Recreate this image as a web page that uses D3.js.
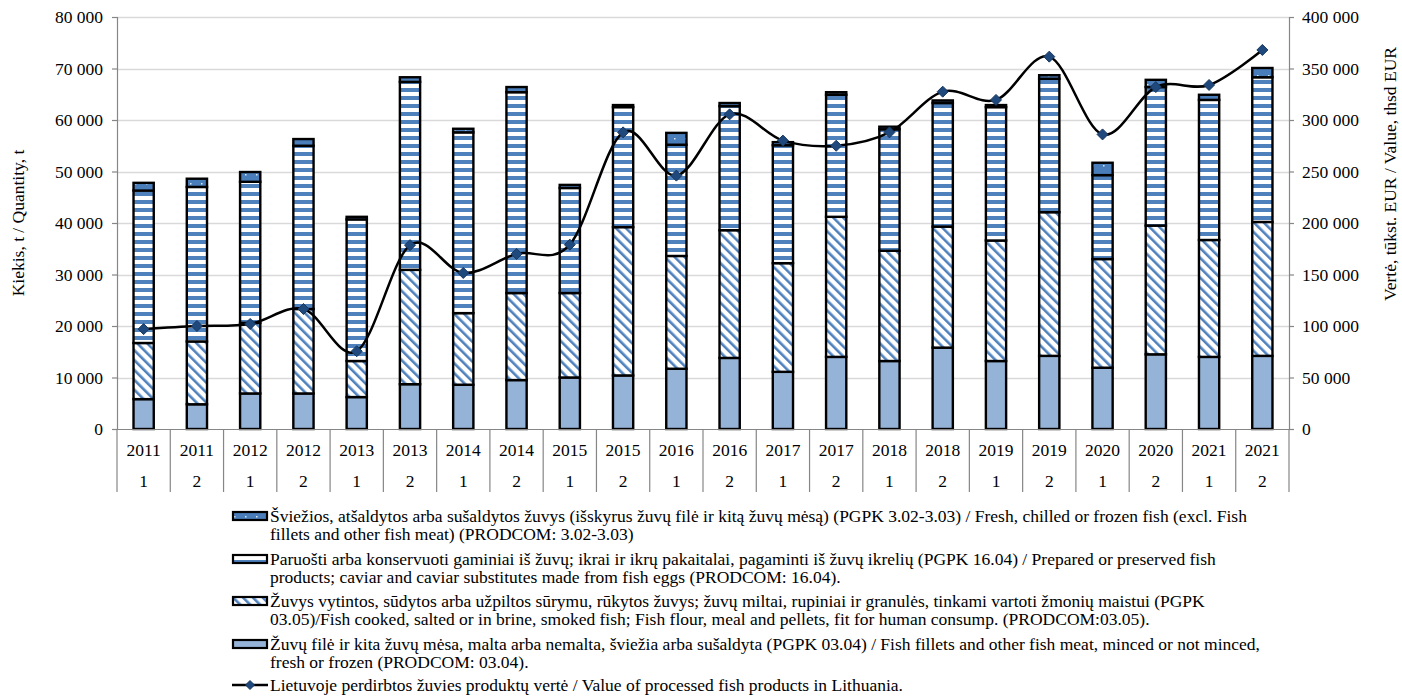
<!DOCTYPE html>
<html><head><meta charset="utf-8">
<script src="https://cdn.jsdelivr.net/npm/d3@7"></script>
<style>
body{margin:0;background:#fff;}
svg{display:block;font-family:"Liberation Serif","Times New Roman",serif;}
</style></head>
<body>
<svg id="c" width="1402" height="696"></svg>
<script>
const years  = ["2011","2011","2012","2012","2013","2013","2014","2014","2015","2015","2016","2016","2017","2017","2018","2018","2019","2019","2020","2020","2021","2021"];
const halves = ["1","2","1","2","1","2","1","2","1","2","1","2","1","2","1","2","1","2","1","2","1","2"];
// stacked from bottom
const fillets  = [5800,4800,6900,6900,6200,8700,8600,9500,10000,10400,11700,13800,11100,14000,13200,15800,13200,14200,11900,14500,14000,14200];
const cooked   = [10900,12200,13700,16400,7000,22200,13900,16900,16400,28800,21900,24800,21100,27200,21400,23500,23400,27900,21100,25000,22700,26000];
const prepared = [29600,30000,27400,31700,27500,36500,35100,39000,20400,23300,21600,24100,22900,23700,23600,24000,25900,25900,16300,26900,27200,28100];
const fresh    = [1500,1600,1900,1300,500,900,700,1000,600,400,2300,600,600,500,500,500,400,700,2400,1400,1000,1800];
const valueLine = [97000,100000,102000,116500,75500,178500,151500,170000,179000,288000,246000,305500,280000,275000,288000,327500,319500,361500,286000,332000,334000,368000];
const leftTicks  = [0,10000,20000,30000,40000,50000,60000,70000,80000];
const rightTicks = [0,50000,100000,150000,200000,250000,300000,350000,400000];
const leftTitle  = "Kiekis, t / Quantity, t";
const rightTitle = "Vertė, tūkst. EUR / Value, thsd EUR";
const seriesNames = [
  ["Šviežios, atšaldytos arba sušaldytos žuvys (išskyrus žuvų filė ir kitą žuvų mėsą) (PGPK 3.02-3.03) / Fresh, chilled or frozen fish (excl. Fish","fillets and other fish meat) (PRODCOM: 3.02-3.03)"],
  ["Paruošti arba konservuoti gaminiai iš žuvų; ikrai ir ikrų pakaitalai, pagaminti iš žuvų ikrelių (PGPK 16.04) / Prepared or preserved fish","products; caviar and caviar substitutes made from fish eggs (PRODCOM: 16.04)."],
  ["Žuvys vytintos, sūdytos arba užpiltos sūrymu, rūkytos žuvys; žuvų miltai, rupiniai ir granulės, tinkami vartoti žmonių maistui (PGPK","03.05)/Fish cooked, salted or in brine, smoked fish; Fish flour, meal and pellets, fit for human consump. (PRODCOM:03.05)."],
  ["Žuvų filė ir kita žuvų mėsa, malta arba nemalta, šviežia arba sušaldyta (PGPK 03.04) / Fish fillets and other fish meat, minced or not minced,","fresh or frozen (PRODCOM: 03.04)."]
];
const lineName = "Lietuvoje perdirbtos žuvies produktų vertė / Value of processed fish products in Lithuania.";

const svg = d3.select("#c");
const L = 117, R = 1289, T = 17, B = 429;
const BLUE = "#4f81bd";
const FS = 17.5;

// patterns
const defs = svg.append("defs");
const pFresh = defs.append("pattern").attr("id","pFresh").attr("patternUnits","userSpaceOnUse").attr("width",11).attr("height",9);
pFresh.append("rect").attr("width",11).attr("height",9).attr("fill","#4a7ebb");
pFresh.append("rect").attr("x",3).attr("y",3).attr("width",1.5).attr("height",1.5).attr("fill","#dce6f2");
const pPrep = defs.append("pattern").attr("id","pPrep").attr("patternUnits","userSpaceOnUse").attr("width",8).attr("height",8);
pPrep.append("rect").attr("width",8).attr("height",8).attr("fill","#fff");
pPrep.append("rect").attr("y",0).attr("width",8).attr("height",4).attr("fill",BLUE);
const pCook = defs.append("pattern").attr("id","pCook").attr("patternUnits","userSpaceOnUse").attr("width",7).attr("height",7).attr("patternTransform","rotate(-45)");
pCook.append("rect").attr("width",7).attr("height",7).attr("fill","#fff");
pCook.append("rect").attr("width",2.6).attr("height",7).attr("fill",BLUE);

const idx = d3.range(years.length);
const x = d3.scaleBand().domain(idx).range([L,R]).paddingInner(0).paddingOuter(0);
const yL = d3.scaleLinear().domain([0,80000]).range([B,T]);
const yR = d3.scaleLinear().domain([0,400000]).range([B,T]);
const loc = d3.formatLocale({decimal:",",thousands:"\u00a0",grouping:[3],currency:["",""]});
const fmt = loc.format(",");

// gridlines
svg.append("g").selectAll("line").data(leftTicks.filter(d=>d>0)).join("line")
  .attr("x1",L).attr("x2",R).attr("y1",d=>Math.round(yL(d))+0.5).attr("y2",d=>Math.round(yL(d))+0.5)
  .attr("stroke","#d9d9d9").attr("stroke-width",1.3);

// stacked bars
const layers = [
  {vals:fillets, fill:"#95b3d7"},
  {vals:cooked, fill:"url(#pCook)"},
  {vals:prepared, fill:"url(#pPrep)"},
  {vals:fresh, fill:"url(#pFresh)"}
];
const bw = x.bandwidth()*0.38;
const gBars = svg.append("g");
idx.forEach(i=>{
  let base = 0;
  layers.forEach(l=>{
    const v = l.vals[i];
    gBars.append("rect")
      .attr("x", x(i)+x.bandwidth()/2-bw/2)
      .attr("y", yL(base+v))
      .attr("width", bw)
      .attr("height", yL(base)-yL(base+v))
      .attr("fill", l.fill).attr("stroke","#000").attr("stroke-width",2.4);
    base += v;
  });
});

// axes
const axL = svg.append("g").attr("transform",`translate(${L},0)`)
  .call(d3.axisLeft(yL).tickValues(leftTicks).tickFormat(fmt).tickSize(5).tickPadding(9));
const axR = svg.append("g").attr("transform",`translate(${R},0)`)
  .call(d3.axisRight(yR).tickValues(rightTicks).tickFormat(fmt).tickSize(5).tickPadding(8));
[axL,axR].forEach(a=>{
  a.attr("font-family",null);
  a.select(".domain").attr("stroke","#868686").attr("stroke-width",1.2);
  a.selectAll(".tick line").attr("stroke","#868686").attr("stroke-width",1.2);
  a.selectAll(".tick text").attr("font-family","Liberation Serif").attr("font-size",FS).attr("fill","#000");
});
// bottom axis line and category separators
svg.append("line").attr("x1",L).attr("x2",R).attr("y1",B+0.5).attr("y2",B+0.5).attr("stroke","#868686").attr("stroke-width",1.2);
const seps = idx.map(i=>x(i)).concat([R]);
svg.append("g").selectAll("line").data(seps).join("line")
  .attr("x1",d=>d).attr("x2",d=>d).attr("y1",B).attr("y2",492)
  .attr("stroke","#868686").attr("stroke-width",1.2);
const gx = svg.append("g").attr("font-size",FS).attr("text-anchor","middle");
gx.selectAll("text.yr").data(idx).join("text").attr("class","yr")
  .attr("x",i=>x(i)+x.bandwidth()/2).attr("y",456).text(i=>years[i]);
gx.selectAll("text.hf").data(idx).join("text").attr("class","hf")
  .attr("x",i=>x(i)+x.bandwidth()/2).attr("y",487).text(i=>halves[i]);

// axis titles
svg.append("text").attr("transform","translate(24,223) rotate(-90)").attr("text-anchor","middle")
  .attr("font-size",FS).text(leftTitle);
svg.append("text").attr("transform","translate(1396,174) rotate(-90)").attr("text-anchor","middle")
  .attr("font-size",FS).text(rightTitle);

// line
const cx = i=>x(i)+x.bandwidth()/2;
svg.append("path").datum(idx)
  .attr("d", d3.line().x(cx).y(i=>yR(valueLine[i])).curve(d3.curveCardinal.tension(0)))
  .attr("fill","none").attr("stroke","#000").attr("stroke-width",2.5);
const diamond = "M0,-5.5L5.5,0L0,5.5L-5.5,0Z";
svg.append("g").selectAll("path").data(idx).join("path")
  .attr("d",diamond).attr("transform",i=>`translate(${cx(i)},${yR(valueLine[i])})`)
  .attr("fill","#1f497d").attr("stroke","#17375e").attr("stroke-width",1);

// legend
const legFills = ["url(#pFresh)","url(#pPrep)","url(#pCook)","#95b3d7"];
const legY = [516, 559, 601, 644];
const gl = svg.append("g").attr("font-size",FS);
seriesNames.forEach((lines,k)=>{
  gl.append("rect").attr("x",233).attr("y",legY[k]-4).attr("width",34).attr("height",8)
    .attr("fill",legFills[k]).attr("stroke","#000").attr("stroke-width",2.2);
  lines.forEach((t,j)=>{
    gl.append("text").attr("x",270).attr("y",legY[k]+6+j*18).text(t);
  });
});
gl.append("line").attr("x1",232).attr("x2",268).attr("y1",685).attr("y2",685).attr("stroke","#000").attr("stroke-width",2.5);
gl.append("path").attr("d","M0,-4.5L4.5,0L0,4.5L-4.5,0Z").attr("transform","translate(250,685)")
  .attr("fill","#1f497d").attr("stroke","#17375e");
gl.append("text").attr("x",270).attr("y",691).text(lineName);
</script>
</body></html>
